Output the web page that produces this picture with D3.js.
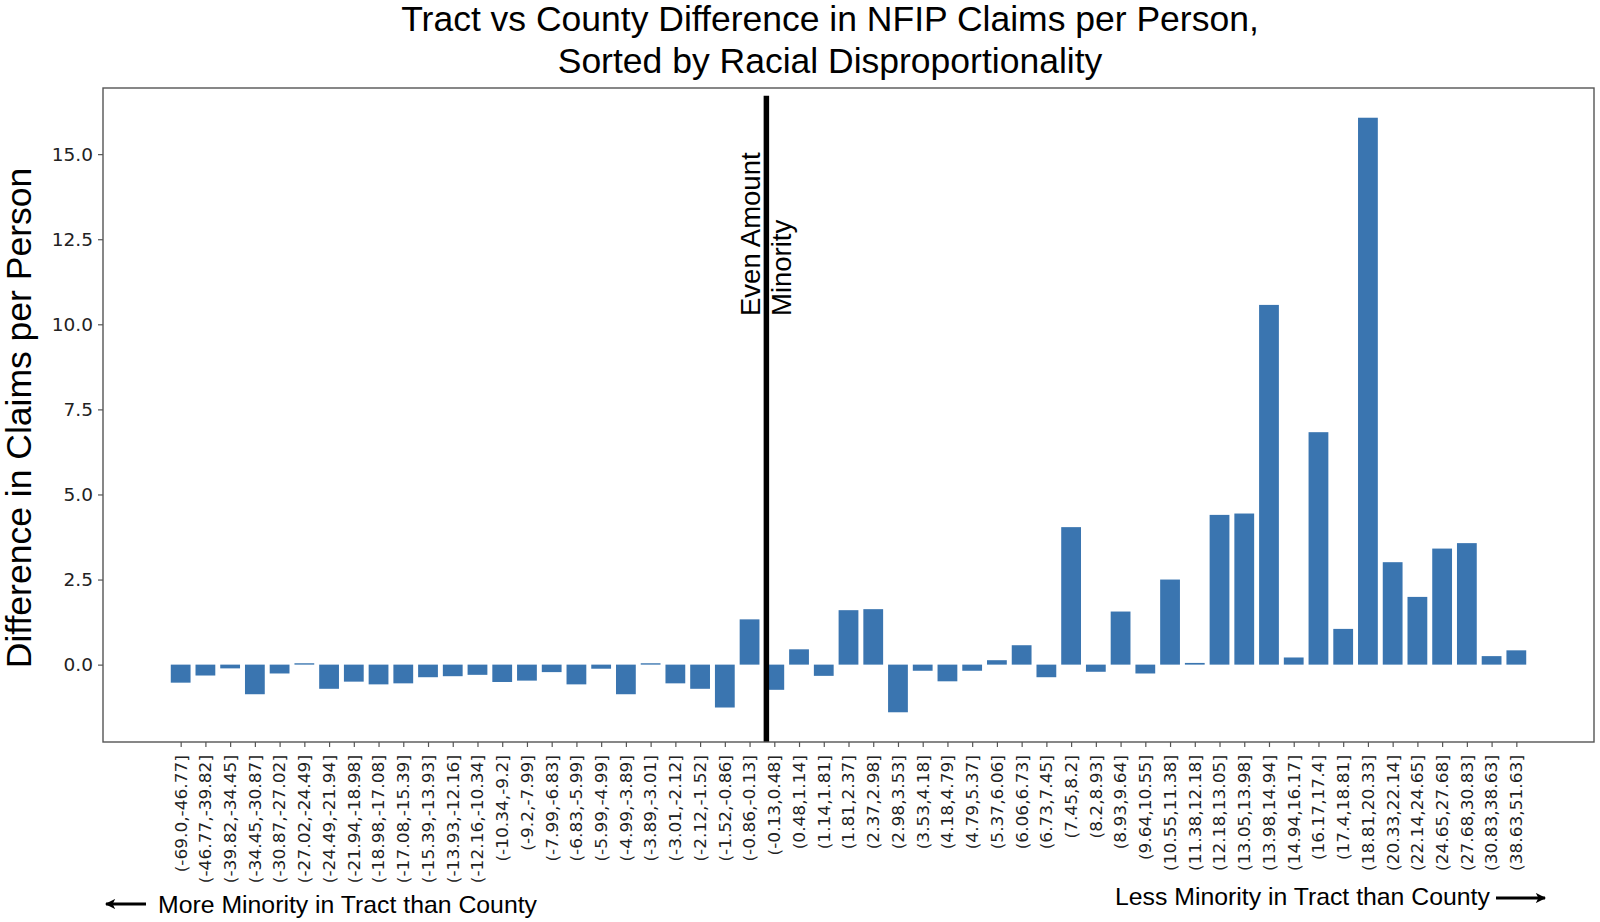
<!DOCTYPE html>
<html>
<head>
<meta charset="utf-8">
<script src="https://cdn.jsdelivr.net/npm/d3@7"></script>
<style>
  html, body { margin: 0; padding: 0; background: #fff; }
  svg { display: block; }
</style>
</head>
<body>
<svg id="chart" width="1600" height="922"></svg>
<script>
// ---- data ----
const categories = [
  "(-69.0,-46.77]", "(-46.77,-39.82]", "(-39.82,-34.45]", "(-34.45,-30.87]", "(-30.87,-27.02]",
  "(-27.02,-24.49]", "(-24.49,-21.94]", "(-21.94,-18.98]", "(-18.98,-17.08]", "(-17.08,-15.39]",
  "(-15.39,-13.93]", "(-13.93,-12.16]", "(-12.16,-10.34]", "(-10.34,-9.2]", "(-9.2,-7.99]",
  "(-7.99,-6.83]", "(-6.83,-5.99]", "(-5.99,-4.99]", "(-4.99,-3.89]", "(-3.89,-3.01]",
  "(-3.01,-2.12]", "(-2.12,-1.52]", "(-1.52,-0.86]", "(-0.86,-0.13]", "(-0.13,0.48]",
  "(0.48,1.14]", "(1.14,1.81]", "(1.81,2.37]", "(2.37,2.98]", "(2.98,3.53]",
  "(3.53,4.18]", "(4.18,4.79]", "(4.79,5.37]", "(5.37,6.06]", "(6.06,6.73]",
  "(6.73,7.45]", "(7.45,8.2]", "(8.2,8.93]", "(8.93,9.64]", "(9.64,10.55]",
  "(10.55,11.38]", "(11.38,12.18]", "(12.18,13.05]", "(13.05,13.98]", "(13.98,14.94]",
  "(14.94,16.17]", "(16.17,17.4]", "(17.4,18.81]", "(18.81,20.33]", "(20.33,22.14]",
  "(22.14,24.65]", "(24.65,27.68]", "(27.68,30.83]", "(30.83,38.63]", "(38.63,51.63]"
];
const claimsDiff = [
  -0.53, -0.32, -0.11, -0.87, -0.26,
   0.04, -0.71, -0.50, -0.58, -0.55,
  -0.37, -0.34, -0.30, -0.51, -0.47,
  -0.22, -0.58, -0.12, -0.87,  0.04,
  -0.55, -0.71, -1.26,  1.33, -0.74,
   0.45, -0.33,  1.60,  1.63, -1.40,
  -0.18, -0.49, -0.18,  0.13,  0.57,
  -0.37,  4.04, -0.21,  1.56, -0.26,
   2.50,  0.05,  4.40,  4.44, 10.57,
   0.21,  6.83,  1.05, 16.07,  3.01,
   1.99,  3.41,  3.57,  0.25,  0.42
];
const yTicks = [0, 2.5, 5, 7.5, 10, 12.5, 15];
const evenLinePos = 23.68;   // position of "Even Amount Minority" marker on the category axis
const titleLines = ["Tract vs County Difference in NFIP Claims per Person,", "Sorted by Racial Disproportionality"];
const yLabel = "Difference in Claims per Person";
const markerLines = ["Even Amount", "Minority"];
const leftNote = "More Minority in Tract than County";
const rightNote = "Less Minority in Tract than County";

// ---- layout ----
const svg = d3.select("#chart");
const L = 103, R = 1594, T = 88, B = 742;
const sans = "'Liberation Sans', Arial, sans-serif";
const tickFont = "'DejaVu Sans', sans-serif";
const barColor = "#3a75b0";
const spineColor = "#555";

const n = categories.length;
const xPad = 0.05 * (n - 1 + 0.8);
const x = d3.scaleLinear().domain([-0.4 - xPad, n - 1 + 0.4 + xPad]).range([L, R]);
const yMin = d3.min(claimsDiff), yMax = d3.max(claimsDiff);
const yPad = 0.05 * (yMax - yMin);
const y = d3.scaleLinear().domain([yMin - yPad, yMax + yPad]).range([B, T]);

// bars
svg.append("g").selectAll("rect").data(claimsDiff).join("rect")
  .attr("x", (d, i) => x(i - 0.4))
  .attr("width", (d, i) => x(i + 0.4) - x(i - 0.4))
  .attr("y", d => y(Math.max(0, d)))
  .attr("height", d => Math.abs(y(d) - y(0)))
  .attr("fill", barColor);

// vertical marker line
svg.append("line")
  .attr("x1", x(evenLinePos)).attr("x2", x(evenLinePos))
  .attr("y1", B).attr("y2", B - 0.988 * (B - T))
  .attr("stroke", "#000").attr("stroke-width", 5.5);

// marker text (rotated)
const mx = x(evenLinePos);
const markerBase = [mx - 6, mx + 25];
markerLines.forEach((t, k) => {
  svg.append("text")
    .attr("transform", `translate(${markerBase[k]},316) rotate(-90)`)
    .attr("font-family", sans).attr("font-size", 27.5).attr("fill", "#000")
    .attr("text-anchor", "start")
    .text(t);
});

// frame
svg.append("rect").attr("x", L).attr("y", T).attr("width", R - L).attr("height", B - T)
  .attr("fill", "none").attr("stroke", spineColor).attr("stroke-width", 1.4);

// y axis
const yAxis = d3.axisLeft(y).tickValues(yTicks).tickFormat(d3.format(".1f")).tickSize(5).tickPadding(5);
const gy = svg.append("g").attr("transform", `translate(${L},0)`).call(yAxis);
gy.select(".domain").remove();
gy.selectAll(".tick line").attr("stroke", spineColor).attr("stroke-width", 1.2);
gy.selectAll(".tick text").attr("font-family", tickFont).attr("font-size", 18.5).attr("fill", "#222");

// x axis
const xAxis = d3.axisBottom(x).tickValues(d3.range(n)).tickFormat(i => categories[i]).tickSize(5).tickPadding(8);
const gx = svg.append("g").attr("transform", `translate(0,${B})`).call(xAxis);
gx.select(".domain").remove();
gx.selectAll(".tick line").attr("stroke", spineColor).attr("stroke-width", 1.2);
gx.selectAll(".tick text")
  .attr("font-family", tickFont).attr("font-size", 17).attr("fill", "#222")
  .attr("transform", "rotate(-90) scale(1,0.9)")
  .attr("text-anchor", "end")
  .attr("x", -13).attr("y", 0).attr("dy", "0.35em");

// title
titleLines.forEach((t, k) => {
  svg.append("text").attr("x", 830).attr("y", 31 + k * 42)
    .attr("text-anchor", "middle").attr("font-family", sans).attr("font-size", 35.5).attr("fill", "#000")
    .text(t);
});

// y label
svg.append("text")
  .attr("transform", `translate(31,418) rotate(-90)`)
  .attr("text-anchor", "middle").attr("font-family", sans).attr("font-size", 35.5).attr("fill", "#000")
  .text(yLabel);

// arrow marker defs
const defs = svg.append("defs");
defs.append("marker").attr("id", "ah").attr("viewBox", "0 0 10 10").attr("refX", 9).attr("refY", 5)
  .attr("markerWidth", 4.2).attr("markerHeight", 3.4).attr("markerUnits", "strokeWidth").attr("orient", "auto")
  .append("path").attr("d", "M0,0 L10,5 L0,10 L2.5,5 Z").attr("fill", "#000");

// bottom notes
svg.append("line").attr("x1", 146).attr("x2", 106).attr("y1", 904).attr("y2", 904)
  .attr("stroke", "#000").attr("stroke-width", 3).attr("marker-end", "url(#ah)");
svg.append("text").attr("x", 158).attr("y", 913).attr("font-family", sans).attr("font-size", 24.8)
  .attr("fill", "#000").text(leftNote);

svg.append("text").attr("x", 1115).attr("y", 905).attr("font-family", sans).attr("font-size", 24.8)
  .attr("fill", "#000").text(rightNote);
svg.append("line").attr("x1", 1496).attr("x2", 1545).attr("y1", 898).attr("y2", 898)
  .attr("stroke", "#000").attr("stroke-width", 3).attr("marker-end", "url(#ah)");
</script>
</body>
</html>
